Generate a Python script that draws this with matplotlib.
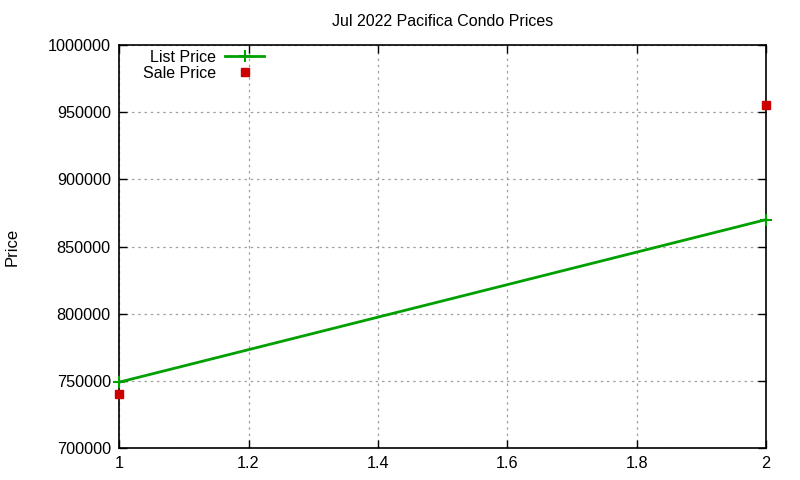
import matplotlib
matplotlib.use("Agg")
import matplotlib.pyplot as plt
from matplotlib.ticker import FixedLocator, FuncFormatter

plt.rcParams['font.family'] = ['Liberation Sans', 'DejaVu Sans']

title = "Jul 2022 Pacifica Condo Prices"
list_x = [1, 2]
list_price = [749000, 870000]
sale_x = [1, 2]
sale_price = [740000, 955000]
x_ticks = [1, 1.2, 1.4, 1.6, 1.8, 2]
y_ticks = [700000, 750000, 800000, 850000, 900000, 950000, 1000000]

fig = plt.figure(figsize=(8, 4.8), dpi=100)
ax = fig.add_axes([0.149, 0.0667, 0.8085, 0.8395])

ax.plot(list_x, list_price, color='#00a000', lw=2, marker='+', ms=9, mew=1.5,
        label='List Price', clip_on=False, zorder=3)
ax.plot(sale_x, sale_price, ls='none', color='#cc0000', marker='s', ms=6,
        label='Sale Price', clip_on=False, zorder=4)

ax.set_xlim(1, 2)
ax.set_ylim(700000, 1000000)
ax.xaxis.set_major_locator(FixedLocator(x_ticks))
ax.yaxis.set_major_locator(FixedLocator(y_ticks))
ax.xaxis.set_major_formatter(FuncFormatter(lambda v, p: f"{v:g}"))
ax.yaxis.set_major_formatter(FuncFormatter(lambda v, p: f"{int(v)}"))
ax.tick_params(direction='in', length=6, width=1, labelsize=11.7,
               top=True, right=True, colors='black')
ax.tick_params(axis='x', pad=6)
ax.tick_params(axis='y', pad=6)
ax.grid(True, color='#a0a0a0', ls=(0, (2, 3)), lw=0.9)
for s in ax.spines.values():
    s.set_linewidth(1.2)
    s.set_color('black')

ax.set_title(title, fontsize=11.5, pad=14)
ax.set_ylabel("Price", fontsize=12, va='center')
ax.yaxis.set_label_coords(-0.166, 0.5)

leg = ax.legend(loc='upper left', bbox_to_anchor=(0.019, 1.016), frameon=False,
                markerfirst=False, fontsize=11.5, handlelength=2.4,
                handletextpad=0.6, labelspacing=0.05, borderaxespad=0.3)
for t in leg.get_texts():
    t.set_ha('right')

fig.savefig("out.png", dpi=100)
